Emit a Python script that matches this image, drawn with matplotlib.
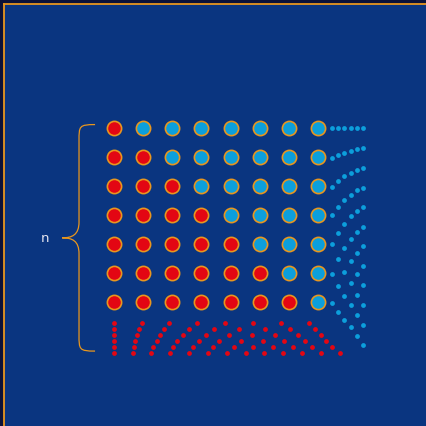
import matplotlib
matplotlib.use("Agg")
import matplotlib.pyplot as plt
from matplotlib.path import Path
from matplotlib.patches import PathPatch

# grid of big circles: 7 rows x 8 columns, red on/below the diagonal
n_rows = 7
n_cols = 8

# blue fan to the right of the grid: x position of each dot column, and the y values of its dots
blue_fan_x = [7.47, 7.69, 7.88, 8.12, 8.33, 8.55]
blue_fan_y = [
    [0.0, 1.04, 2.03, 2.99, 4.0, 5.02, 6.01],
    [0.0, 0.93, 1.84, 2.73, 3.62, 4.52, 5.44, 6.33],
    [0.0, 0.86, 1.67, 2.49, 3.31, 4.13, 4.97, 5.79, 6.60],
    [0.0, 0.80, 1.56, 2.31, 3.04, 3.81, 4.59, 5.33, 6.10, 6.84],
    [0.0, 0.75, 1.47, 2.14, 2.85, 3.57, 4.30, 5.02, 5.73, 6.43, 7.14],
    [0.0, 0.71, 1.39, 2.07, 2.73, 3.40, 4.05, 4.75, 5.42, 6.10, 6.77, 7.45],
]

# red fan under the grid: y position of each dot row, and the x values of its dots
red_fan_y = [6.71, 6.92, 7.11, 7.32, 7.52, 7.74]
red_fan_x = [
    [0.0, 0.95, 1.90, 2.85, 3.81, 4.78, 5.72, 6.68],
    [0.0, 0.86, 1.72, 2.57, 3.43, 4.30, 5.18, 6.03, 6.90],
    [0.0, 0.79, 1.58, 2.37, 3.15, 3.93, 4.73, 5.52, 6.30, 7.09],
    [0.0, 0.72, 1.46, 2.17, 2.90, 3.61, 4.36, 5.10, 5.82, 6.54, 7.26],
    [0.0, 0.68, 1.35, 2.04, 2.72, 3.41, 4.10, 4.77, 5.46, 6.13, 6.80, 7.49],
    [0.0, 0.64, 1.28, 1.93, 2.58, 3.22, 3.87, 4.52, 5.16, 5.81, 6.46, 7.10, 7.74],
]

brace_label = "n"

RED = "#e30613"
BLUE = "#0c9fdc"
ORANGE = "#e8961e"
AX_BG = "#0a3580"
FIG_BG = "#0c1238"

# axes runs past the right and bottom edges, only left/top spines show
fig = plt.figure(figsize=(4.27, 4.27), dpi=100, facecolor=FIG_BG)
ax = fig.add_axes([4.5 / 427, -20 / 427, 1 + 20 / 427, 1 + 15 / 427])
ax.set_facecolor(AX_BG)
px = 29.15  # pixels per grid step
ax.set_xlim((4.5 - 114) / px, (447 + 4.5 - 114) / px)
ax.set_ylim((447 - 128.5) / px, (5 - 128.5) / px)
ax.set_xticks([])
ax.set_yticks([])
for side in ["right", "bottom"]:
    ax.spines[side].set_visible(False)
for side in ["left", "top"]:
    ax.spines[side].set_color(ORANGE)
    ax.spines[side].set_linewidth(1.3)

# fans of small dots
for x, ys in zip(blue_fan_x, blue_fan_y):
    ax.scatter([x] * len(ys), ys, s=12, color=BLUE, linewidths=0, zorder=2)
for y, xs in zip(red_fan_y, red_fan_x):
    ax.scatter(xs, [y] * len(xs), s=12, color=RED, linewidths=0, zorder=2)

# big circles
for i in range(n_rows):
    for j in range(n_cols):
        c = RED if j <= i else BLUE
        ax.scatter(j, i, s=105, color=c, edgecolors=ORANGE, linewidths=1.2, zorder=3)

# curly brace on the left
top, bot = -0.1, red_fan_y[-1] - 0.07
mid = (top + bot) / 2
xe, xv, xt = -0.65, -1.2, -1.78
r = 0.55
verts = [
    (xe, top), (xv, top), (xv, top + r * 0.1), (xv, top + r),
    (xv, mid - r),
    (xv, mid - 0.1), (xv + (xt - xv) * 0.4, mid), (xt, mid),
    (xv + (xt - xv) * 0.4, mid), (xv, mid + 0.1), (xv, mid + r),
    (xv, bot - r),
    (xv, bot - r * 0.1), (xv, bot), (xe, bot),
]
codes = [Path.MOVETO, Path.CURVE4, Path.CURVE4, Path.CURVE4,
         Path.LINETO,
         Path.CURVE4, Path.CURVE4, Path.CURVE4,
         Path.CURVE4, Path.CURVE4, Path.CURVE4,
         Path.LINETO,
         Path.CURVE4, Path.CURVE4, Path.CURVE4]
ax.add_patch(PathPatch(Path(verts, codes), fill=False, edgecolor=ORANGE, linewidth=0.9))

ax.text(-2.37, mid, brace_label, color="#e6e6f0", fontsize=9.5, ha="center", va="center")

fig.savefig("out.png", dpi=100, facecolor=FIG_BG)
